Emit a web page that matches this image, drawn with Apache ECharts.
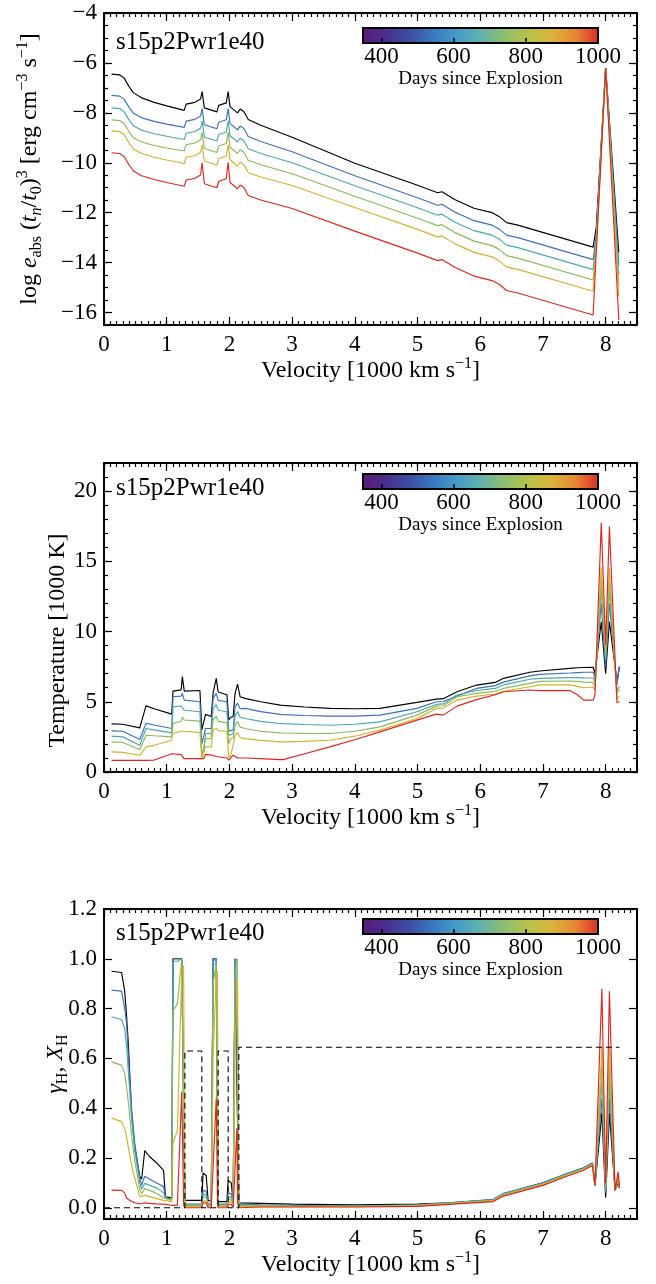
<!DOCTYPE html>
<html><head><meta charset="utf-8">
<script src="https://cdn.jsdelivr.net/npm/echarts@6/dist/echarts.min.js"></script>
<style>html,body{margin:0;padding:0;background:#fff}#c{width:656px;height:1284px}</style>
</head><body><div id="c"></div>
<script>
// ---------------- data ----------------
const seriesNames = ['epoch 1', 'epoch 2', 'epoch 3', 'epoch 4', 'epoch 5', 'epoch 6'];
const lineColors = ['#000000', '#3c6fc4', '#4aa9a9', '#8ab95a', '#d4b22c', '#e2241d'];
const modelName = 's15p2Pwr1e40';

const velocityTicks = [0, 1, 2, 3, 4, 5, 6, 7, 8];
const eabsTicks = [-16, -14, -12, -10, -8, -6, -4];
const tempTicks = [0, 5, 10, 15, 20];
const fracTicks = [0, 0.2, 0.4, 0.6, 0.8, 1.0, 1.2];
const dayTicks = [400, 600, 800, 1000];
const dayTickMarks = [400, 600, 800];
const cbarColors = ['#5a1a7a', '#4b2d8e', '#3c4fa2', '#3a78c0', '#479cc8', '#62b1ae', '#8cbf6e', '#b6c24a', '#dbb33a', '#e78934', '#dc2a22'];

// panel 1 : log e_abs (t_n/t_0)^3
const velE = [0.12, 0.25, 0.32, 0.36, 0.40, 0.47, 0.6, 0.8, 1.0, 1.28, 1.31, 1.45, 1.54, 1.565, 1.60, 1.80, 1.83, 1.95, 1.98, 2.01, 2.13, 2.17, 2.23, 2.30, 2.5, 3.0, 4.0, 5.0, 5.32, 5.39, 5.6, 5.9, 6.19, 6.3, 6.42, 6.6, 7.8, 7.85, 8.0, 8.21];
const eabs1 = [-6.45, -6.48, -6.6, -6.78, -6.95, -7.2, -7.4, -7.58, -7.72, -7.9, -7.65, -7.58, -7.45, -7.15, -7.8, -7.96, -7.7, -7.6, -7.15, -7.75, -8.0, -7.85, -7.95, -8.27, -8.5, -8.98, -10.02, -10.9, -11.2, -11.16, -11.48, -11.82, -12.0, -12.15, -12.4, -12.5, -13.38, -12.6, -6.2, -13.6];
const eabs2 = [-7.30, -7.33, -7.45, -7.62, -7.78, -8.02, -8.20, -8.34, -8.45, -8.58, -8.33, -8.26, -8.13, -7.83, -8.48, -8.64, -8.38, -8.28, -7.83, -8.43, -8.68, -8.53, -8.63, -8.95, -9.15, -9.56, -10.52, -11.4, -11.7, -11.66, -11.98, -12.32, -12.5, -12.65, -12.9, -13.0, -13.88, -12.9, -6.2, -14.1];
const eabs3 = [-7.80, -7.83, -7.95, -8.12, -8.28, -8.52, -8.70, -8.84, -8.94, -9.07, -8.82, -8.75, -8.62, -8.32, -8.97, -9.13, -8.87, -8.77, -8.32, -8.92, -9.17, -9.02, -9.12, -9.44, -9.63, -10.0, -10.92, -11.8, -12.1, -12.06, -12.38, -12.72, -12.9, -13.05, -13.3, -13.4, -14.28, -13.1, -6.2, -14.5];
const eabs4 = [-8.28, -8.31, -8.43, -8.60, -8.76, -9.0, -9.17, -9.31, -9.41, -9.53, -9.28, -9.21, -9.08, -8.78, -9.43, -9.59, -9.33, -9.23, -8.78, -9.38, -9.63, -9.48, -9.58, -9.90, -10.08, -10.44, -11.34, -12.22, -12.52, -12.48, -12.8, -13.14, -13.32, -13.47, -13.72, -13.82, -14.7, -13.3, -6.2, -14.95];
const eabs5 = [-8.72, -8.75, -8.87, -9.04, -9.21, -9.45, -9.63, -9.78, -9.89, -10.03, -9.78, -9.71, -9.58, -9.28, -9.93, -10.09, -9.83, -9.73, -9.28, -9.88, -10.13, -9.98, -10.08, -10.40, -10.57, -10.91, -11.79, -12.67, -12.97, -12.93, -13.25, -13.59, -13.77, -13.92, -14.17, -14.27, -15.15, -13.45, -6.2, -15.35];
const eabs6 = [-9.60, -9.63, -9.75, -9.92, -10.09, -10.33, -10.52, -10.67, -10.79, -10.94, -10.69, -10.62, -10.49, -10.0, -10.84, -11.0, -10.74, -10.64, -9.98, -10.79, -11.04, -10.89, -10.99, -11.31, -11.49, -11.83, -12.74, -13.62, -13.92, -13.88, -14.2, -14.54, -14.72, -14.87, -15.12, -15.22, -16.1, -13.6, -6.2, -16.3];

// panel 2 : temperature [1000 K]
const velT = [0.12, 0.3, 0.57, 0.67, 0.8, 1.08, 1.10, 1.23, 1.25, 1.28, 1.53, 1.56, 1.59, 1.62, 1.71, 1.74, 1.79, 1.82, 1.96, 1.99, 2.02, 2.06, 2.09, 2.13, 2.17, 2.25, 2.5, 2.81, 2.86, 3.2, 3.6, 4.0, 4.4, 4.99, 5.3, 5.41, 5.63, 5.94, 6.24, 6.37, 6.79, 6.95, 7.43, 7.55, 7.65, 7.8, 7.83, 7.93, 8.0, 8.06, 8.18, 8.22];
const temp1 = [3.43, 3.4, 3.14, 4.71, 4.5, 4.12, 5.76, 5.85, 6.79, 5.76, 5.8, 3.0, 3.1, 4.1, 3.95, 5.64, 6.67, 5.7, 5.5, 3.7, 3.9, 3.95, 5.6, 6.26, 5.36, 5.24, 5.0, 4.76, 4.74, 4.63, 4.53, 4.5, 4.53, 4.96, 5.19, 5.22, 5.71, 6.19, 6.38, 6.67, 7.1, 7.19, 7.38, 7.42, 7.44, 7.46, 7.03, 10.7, 7.0, 10.7, 6.43, 7.5];
const temp2 = [2.93, 2.9, 2.31, 3.46, 3.35, 3.1, 5.36, 5.4, 5.6, 5.12, 5.0, 2.0, 2.1, 3.1, 3.1, 5.24, 5.6, 5.1, 5.0, 2.9, 3.0, 3.0, 4.64, 4.9, 4.5, 4.53, 4.3, 4.1, 4.08, 4.02, 3.98, 3.98, 4.05, 4.53, 5.0, 5.02, 5.4, 5.95, 6.15, 6.4, 6.84, 6.95, 7.05, 7.08, 7.1, 7.1, 6.7, 12.0, 7.5, 12.0, 6.2, 7.5];
const temp3 = [2.55, 2.5, 1.9, 3.1, 3.0, 2.79, 4.64, 4.7, 4.8, 4.4, 4.29, 1.31, 1.5, 2.74, 2.74, 4.52, 4.8, 4.4, 4.29, 2.6, 2.74, 2.74, 4.0, 4.3, 3.9, 3.81, 3.6, 3.45, 3.44, 3.38, 3.33, 3.4, 3.57, 4.29, 4.81, 4.85, 5.48, 5.8, 5.95, 6.2, 6.6, 6.67, 6.72, 6.72, 6.7, 6.69, 6.4, 13.0, 8.0, 13.0, 5.8, 6.1];
const temp4 = [2.14, 2.1, 1.6, 2.62, 2.58, 2.5, 3.46, 3.6, 3.9, 3.7, 3.62, 1.07, 1.2, 2.38, 2.38, 3.7, 4.0, 3.6, 3.5, 2.0, 2.38, 2.4, 3.33, 3.6, 3.2, 3.1, 2.9, 2.79, 2.78, 2.75, 2.74, 2.9, 3.21, 4.05, 4.69, 4.72, 5.36, 5.6, 5.75, 5.95, 6.31, 6.45, 6.48, 6.45, 6.4, 6.38, 6.1, 13.6, 8.3, 13.6, 5.6, 5.9];
const temp5 = [1.43, 1.4, 1.19, 1.79, 1.9, 2.26, 2.74, 2.9, 3.0, 2.9, 2.8, 0.95, 1.0, 1.79, 1.79, 3.0, 3.1, 2.95, 2.9, 1.0, 1.2, 1.9, 2.62, 2.8, 2.45, 2.38, 2.25, 2.14, 2.14, 2.18, 2.26, 2.55, 2.98, 3.81, 4.53, 4.55, 5.12, 5.4, 5.55, 5.75, 6.07, 6.2, 6.2, 6.1, 6.0, 6.05, 5.8, 14.6, 8.6, 14.5, 5.2, 5.4];
const temp6 = [0.83, 0.83, 0.83, 0.83, 0.85, 1.3, 1.3, 1.24, 1.2, 0.95, 0.95, 0.9, 0.95, 1.25, 1.2, 1.15, 1.1, 1.05, 1.0, 0.85, 0.9, 1.2, 1.15, 1.0, 1.0, 1.0, 0.95, 0.88, 0.88, 1.3, 1.79, 2.3, 2.86, 3.69, 4.12, 4.05, 4.69, 5.15, 5.5, 5.71, 5.84, 5.79, 5.8, 5.5, 5.12, 5.12, 5.5, 17.74, 9.05, 17.5, 4.93, 5.0];

// panel 3 : gamma_H (solid) and X_H (dashed)
const velG = [0.12, 0.28, 0.33, 0.36, 0.39, 0.44, 0.49, 0.57, 0.6, 0.65, 0.73, 0.84, 0.95, 0.98, 1.08, 1.1, 1.17, 1.24, 1.27, 1.29, 1.56, 1.58, 1.63, 1.66, 1.71, 1.74, 1.79, 1.81, 1.82, 1.96, 1.98, 2.03, 2.06, 2.09, 2.12, 2.13, 2.15, 2.5, 3.0, 4.0, 5.0, 5.5, 6.21, 6.37, 7.0, 7.38, 7.64, 7.79, 7.83, 7.94, 8.0, 8.06, 8.15, 8.2, 8.22];
const gam1 = [0.95, 0.945, 0.87, 0.77, 0.65, 0.38, 0.245, 0.125, 0.115, 0.23, 0.205, 0.18, 0.15, 0.044, 0.04, 1.0, 1.0, 1.0, 1.0, 0.03, 0.03, 0.14, 0.13, 0.03, 0.025, 1.0, 1.0, 1.0, 0.025, 0.025, 0.11, 0.1, 0.02, 1.0, 1.0, 1.0, 0.02, 0.018, 0.015, 0.012, 0.015, 0.02, 0.032, 0.056, 0.1, 0.137, 0.16, 0.18, 0.09, 0.38, 0.04, 0.38, 0.07, 0.1, 0.08];
const gam2 = [0.874, 0.87, 0.8, 0.74, 0.6, 0.4, 0.26, 0.12, 0.09, 0.127, 0.115, 0.1, 0.085, 0.04, 0.035, 1.0, 1.0, 1.0, 1.0, 0.015, 0.015, 0.07, 0.066, 0.015, 0.015, 1.0, 1.0, 1.0, 0.015, 0.015, 0.06, 0.055, 0.015, 1.0, 1.0, 1.0, 0.015, 0.012, 0.01, 0.008, 0.012, 0.02, 0.034, 0.058, 0.1, 0.138, 0.16, 0.18, 0.09, 0.44, 0.06, 0.44, 0.07, 0.11, 0.08];
const gam3 = [0.767, 0.755, 0.72, 0.65, 0.54, 0.36, 0.23, 0.1, 0.075, 0.098, 0.09, 0.08, 0.06, 0.04, 0.035, 0.99, 0.99, 1.0, 1.0, 0.012, 0.012, 0.055, 0.05, 0.012, 0.012, 0.99, 1.0, 1.0, 0.012, 0.012, 0.045, 0.04, 0.012, 0.99, 1.0, 1.0, 0.012, 0.01, 0.008, 0.007, 0.011, 0.019, 0.032, 0.056, 0.098, 0.136, 0.158, 0.178, 0.09, 0.51, 0.07, 0.51, 0.07, 0.12, 0.08];
const gam4 = [0.586, 0.573, 0.54, 0.486, 0.42, 0.29, 0.19, 0.075, 0.057, 0.077, 0.07, 0.057, 0.04, 0.032, 0.03, 0.79, 0.82, 1.0, 1.0, 0.01, 0.01, 0.045, 0.04, 0.01, 0.01, 0.9, 0.98, 0.98, 0.01, 0.01, 0.035, 0.03, 0.01, 0.95, 1.0, 1.0, 0.01, 0.009, 0.007, 0.006, 0.01, 0.018, 0.03, 0.054, 0.096, 0.134, 0.156, 0.176, 0.09, 0.57, 0.08, 0.57, 0.07, 0.12, 0.08];
const gam5 = [0.36, 0.346, 0.32, 0.285, 0.24, 0.17, 0.12, 0.045, 0.037, 0.05, 0.045, 0.037, 0.03, 0.028, 0.025, 0.26, 0.31, 0.95, 0.97, 0.005, 0.005, 0.03, 0.025, 0.005, 0.005, 0.6, 0.93, 0.95, 0.005, 0.005, 0.025, 0.02, 0.005, 0.6, 0.9, 0.92, 0.005, 0.006, 0.005, 0.004, 0.008, 0.016, 0.028, 0.05, 0.094, 0.13, 0.153, 0.172, 0.09, 0.65, 0.09, 0.65, 0.07, 0.13, 0.08];
const gam6 = [0.071, 0.07, 0.06, 0.038, 0.032, 0.025, 0.02, 0.015, 0.015, 0.02, 0.018, 0.016, 0.015, 0.012, 0.01, 0.01, 0.01, 0.466, 0.01, 0.0, 0.0, 0.02, 0.02, 0.0, 0.0, 0.0, 0.44, 0.02, 0.0, 0.0, 0.015, 0.012, 0.0, 0.0, 0.32, 0.02, 0.0, 0.003, 0.003, 0.003, 0.006, 0.014, 0.025, 0.047, 0.09, 0.127, 0.15, 0.17, 0.09, 0.88, 0.1, 0.87, 0.07, 0.145, 0.08];
const velXH = [0, 1.29, 1.29, 1.56, 1.56, 1.82, 1.82, 1.98, 1.98, 2.15, 2.15, 8.22];
const fracXH = [0, 0, 0.63, 0.63, 0, 0, 0.63, 0.63, 0, 0, 0.645, 0.645];

// ---------------- helpers ----------------
const FONT = "'Liberation Serif','DejaVu Serif',serif";
function steps(a, b, s) { const r = []; for (let k = 0; a + k * s <= b + 1e-9; k++) r.push(+(a + k * s).toFixed(4)); return r; }
const velMinor = steps(0, 8.5, 0.1);
const eabsMinor = steps(-16.5, -4, 0.5);
const tempMinor = steps(0, 22, 1);

function rich(size) {
  return {
    n: { fontFamily: FONT, fontSize: size, lineHeight: 30, color: '#000' },
    i: { fontFamily: FONT, fontSize: size, lineHeight: 30, fontStyle: 'italic', color: '#000' },
    sup: { fontFamily: FONT, fontSize: 16, lineHeight: 16, verticalAlign: 'top', color: '#000' },
    sub: { fontFamily: FONT, fontSize: 16, lineHeight: 16, verticalAlign: 'bottom', color: '#000' },
    subi: { fontFamily: FONT, fontSize: 16, lineHeight: 16, verticalAlign: 'bottom', fontStyle: 'italic', color: '#000' }
  };
}
const minus = v => (v < 0 ? '\u2212' : '') + Math.abs(v);

const grids = [], xAxes = [], yAxes = [], series = [], titles = [];
const L = 104, W = 533;

function addPanel(p) {
  const gi = grids.length;
  grids.push({ left: L, width: W, top: p.top, height: p.height, show: false, outerBoundsMode: 'none' });
  const xi = xAxes.length, yi = yAxes.length;
  const axLine = { show: true, onZero: false, lineStyle: { color: '#000', width: 2 } };
  const tickStyle = { color: '#000', width: 1.2 };
  ['bottom', 'top'].forEach(pos => {
    xAxes.push({
      type: 'value', gridIndex: gi, min: 0, max: 8.5, position: pos,
      axisLine: axLine, splitLine: { show: false },
      axisTick: { show: true, inside: true, length: 8, customValues: velocityTicks, lineStyle: tickStyle },
      axisLabel: pos === 'bottom' ? { show: true, customValues: velocityTicks, margin: 8, fontFamily: FONT, fontSize: 23, color: '#000' } : { show: false },
      name: pos === 'bottom' ? '{n|Velocity [1000 km s}{sup|\u22121}{n|]}' : '',
      nameLocation: 'middle', nameGap: 31, nameMoveOverlap: false,
      nameTextStyle: { rich: rich(24) }
    });
    xAxes.push({
      type: 'value', gridIndex: gi, min: 0, max: 8.5, position: pos,
      axisLine: { show: false, onZero: false }, splitLine: { show: false }, axisLabel: { show: false },
      axisTick: { show: true, inside: true, length: 4, customValues: velMinor, lineStyle: tickStyle }
    });
  });
  ['left', 'right'].forEach(pos => {
    yAxes.push({
      type: 'value', gridIndex: gi, min: p.ymin, max: p.ymax, position: pos,
      axisLine: axLine, splitLine: { show: false },
      axisTick: { show: true, inside: true, length: 8, customValues: p.yTicks, lineStyle: tickStyle },
      axisLabel: pos === 'left' ? { show: true, customValues: p.yTicks, margin: 7, fontFamily: FONT, fontSize: 23, color: '#000', formatter: p.yFmt } : { show: false },
      name: pos === 'left' ? p.yName : '',
      nameLocation: 'middle', nameGap: p.yNameGap, nameRotate: 90, nameMoveOverlap: false,
      nameTextStyle: Object.assign({ rich: rich(24), fontFamily: FONT, fontSize: 24, color: '#000' }, p.yNameStyle || {})
    });
    yAxes.push({
      type: 'value', gridIndex: gi, min: p.ymin, max: p.ymax, position: pos,
      axisLine: { show: false, onZero: false }, splitLine: { show: false }, axisLabel: { show: false },
      axisTick: { show: p.yMinor.length > 0, inside: true, length: 4, customValues: p.yMinor.length ? p.yMinor : [p.ymin], lineStyle: tickStyle }
    });
  });
  p.lines.forEach((arr, k) => {
    series.push({
      type: 'line', name: seriesNames[k], xAxisIndex: xi, yAxisIndex: yi,
      data: p.vel.map((v, j) => [v, arr[j]]),
      showSymbol: false, symbol: 'none', animation: false, silent: true,
      lineStyle: { color: lineColors[k], width: 1.15 }, z: 2 + k
    });
  });
  if (p.dashed) {
    series.push({
      type: 'line', name: 'X_H', xAxisIndex: xi, yAxisIndex: yi,
      data: p.dashed[0].map((v, j) => [v, p.dashed[1][j]]),
      showSymbol: false, symbol: 'none', animation: false, silent: true,
      lineStyle: { color: '#000', width: 1.1, type: [6, 4] }, z: 10
    });
  }
  // colour bar
  const ci = grids.length;
  grids.push({
    left: 363, width: 235, top: p.cbTop, height: 15, show: true, outerBoundsMode: 'none',
    backgroundColor: { type: 'linear', x: 0, y: 0, x2: 1, y2: 0, colorStops: cbarColors.map((c, k) => ({ offset: k / (cbarColors.length - 1), color: c })) },
    borderColor: '#000', borderWidth: 2
  });
  xAxes.push({
    type: 'value', gridIndex: ci, min: 349, max: 1000, position: 'bottom',
    axisLine: { show: false, onZero: false }, splitLine: { show: false },
    axisTick: { show: true, inside: true, length: 5, customValues: dayTickMarks, lineStyle: { color: '#000', width: 1.5 } },
    axisLabel: { show: true, customValues: dayTicks, margin: 2, fontFamily: FONT, fontSize: 23, color: '#000', formatter: v => String(v) },
    name: 'Days since Explosion', nameLocation: 'middle', nameGap: 27, nameMoveOverlap: false,
    nameTextStyle: { fontFamily: FONT, fontSize: 19, color: '#000' }
  });
  yAxes.push({ type: 'value', gridIndex: ci, min: 0, max: 1, show: false });
  titles.push({ text: modelName, left: 116, top: p.annTop, padding: 0,
    textStyle: { fontFamily: FONT, fontSize: 25, lineHeight: 25, fontWeight: 'normal', color: '#000' } });
}

addPanel({
  top: 13, height: 312, ymin: -16.5, ymax: -4, yTicks: eabsTicks, yMinor: eabsMinor, yFmt: minus,
  yName: '{n|log }{i|e}{sub|abs}{n| (}{i|t}{subi|n}{n|/}{i|t}{sub|0}{n|)}{sup|3}{n| [erg cm}{sup|\u22123}{n| s}{sup|\u22121}{n|]}',
  yNameGap: 59, vel: velE, lines: [eabs1, eabs2, eabs3, eabs4, eabs5, eabs6], cbTop: 28, annTop: 30
});
addPanel({
  top: 463, height: 309, ymin: 0, ymax: 22, yTicks: tempTicks, yMinor: tempMinor, yFmt: v => String(v),
  yName: 'Temperature [1000 K]', yNameGap: 34, yNameStyle: { padding: [0, 46, 0, 0] },
  vel: velT, lines: [temp1, temp2, temp3, temp4, temp5, temp6], cbTop: 474, annTop: 476
});
addPanel({
  top: 909, height: 310, ymin: -0.045, ymax: 1.2, yTicks: fracTicks, yMinor: [], yFmt: v => v.toFixed(1),
  yName: '{i|\u03b3}{sub|H}{n|, }{i|X}{sub|H}', yNameGap: 33,
  vel: velG, lines: [gam1, gam2, gam3, gam4, gam5, gam6], dashed: [velXH, fracXH], cbTop: 919, annTop: 921
});

const chart = echarts.init(document.getElementById('c'), null, { renderer: 'canvas' });
chart.setOption({
  backgroundColor: '#fff', animation: false,
  title: titles, grid: grids, xAxis: xAxes, yAxis: yAxes, series: series
});
</script></body></html>
